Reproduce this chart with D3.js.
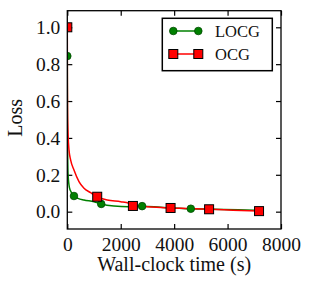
<!DOCTYPE html>
<html><head><meta charset="utf-8">
<script src="https://cdn.jsdelivr.net/npm/d3@7"></script>
<style>html,body{margin:0;padding:0;background:#fff;}svg{display:block;}</style>
</head><body>
<script>
// ---- data ----
const xTicks = [0, 2000, 4000, 6000, 8000];
const yTicks = [0.0, 0.2, 0.4, 0.6, 0.8, 1.0];
const seriesNames = ["LOCG", "OCG"];
// LOCG curve
const locgTime = [0, 8, 30, 80, 150, 250, 400, 625, 1000, 1270, 1745, 2300, 2800, 3500, 4624, 5500, 6400, 7178];
const locgLoss = [0.844, 0.4, 0.2, 0.13, 0.105, 0.085, 0.072, 0.063, 0.054, 0.042, 0.031, 0.027, 0.03, 0.024, 0.016, 0.013, 0.01, 0.006];
const locgMarkTime = [0, 250, 1270, 2800, 4624];
const locgMarkLoss = [0.844, 0.085, 0.042, 0.03, 0.016];
// OCG curve
const ocgTime = [0, 3, 10, 30, 63, 126, 250, 437, 625, 875, 1120, 1495, 2000, 2307, 2456, 3000, 3866, 4500, 5308, 6200, 7178];
const ocgLoss = [1.0, 0.7, 0.55, 0.42, 0.335, 0.28, 0.226, 0.163, 0.127, 0.103, 0.081, 0.063, 0.054, 0.045, 0.031, 0.027, 0.02, 0.017, 0.013, 0.008, 0.003];
const ocgMarkTime = [0, 1120, 2456, 3866, 5308, 7178];
const ocgMarkLoss = [1.0, 0.081, 0.031, 0.02, 0.013, 0.003];

const W = 312, H = 291;
const L = 67.3, R = 281, T = 10.7, B = 229;
const font = "'Liberation Serif','Times New Roman',serif";
const green = "#008000", red = "#ff0000";

const svg = d3.select("body").append("svg").attr("width", W).attr("height", H);
const x = d3.scaleLinear().domain([0, 8000]).range([L, R]);
const y = d3.scaleLinear().domain([-0.094, 1.09]).range([B, T]);

// axes with inward ticks
const tl = 5;
const gB = svg.append("g").attr("transform", `translate(0,${B})`)
  .call(d3.axisBottom(x).tickValues(xTicks).tickFormat(d3.format("d")).tickSizeInner(-tl).tickSizeOuter(0).tickPadding(8));
const gT = svg.append("g").attr("transform", `translate(0,${T})`)
  .call(d3.axisTop(x).tickValues(xTicks).tickFormat("").tickSizeInner(-tl).tickSizeOuter(0));
const gL = svg.append("g").attr("transform", `translate(${L},0)`)
  .call(d3.axisLeft(y).tickValues(yTicks).tickFormat(d3.format(".1f")).tickSizeInner(-tl).tickSizeOuter(0).tickPadding(7));
const gR = svg.append("g").attr("transform", `translate(${R},0)`)
  .call(d3.axisRight(y).tickValues(yTicks).tickFormat("").tickSizeInner(-tl).tickSizeOuter(0));
[gB, gT, gL, gR].forEach(g => {
  g.select(".domain").remove();
  g.selectAll(".tick line").attr("stroke", "#000").attr("stroke-width", 1.2);
  g.selectAll(".tick text").attr("font-family", font).attr("font-size", 19.5).attr("fill", "#111");
});

// data lines
const line = d3.line().x(d => x(d[0])).y(d => y(d[1])).curve(d3.curveMonotoneX);
const clip = svg.append("clipPath").attr("id", "c").append("rect")
  .attr("x", L).attr("y", T).attr("width", R - L).attr("height", B - T);
const plot = svg.append("g").attr("clip-path", "url(#c)");

plot.append("path").datum(d3.zip(locgTime, locgLoss)).attr("d", line)
  .attr("fill", "none").attr("stroke", green).attr("stroke-width", 1.5);
plot.append("path").datum(d3.zip(ocgTime, ocgLoss)).attr("d", line)
  .attr("fill", "none").attr("stroke", red).attr("stroke-width", 1.5);

plot.selectAll("circle.m").data(d3.zip(locgMarkTime, locgMarkLoss)).join("circle")
  .attr("cx", d => x(d[0])).attr("cy", d => y(d[1])).attr("r", 3.8)
  .attr("fill", green).attr("stroke", "#004a00").attr("stroke-width", 0.8);
const s = 9;
plot.selectAll("rect.m").data(d3.zip(ocgMarkTime, ocgMarkLoss)).join("rect")
  .attr("x", d => x(d[0]) - s / 2).attr("y", d => y(d[1]) - s / 2).attr("width", s).attr("height", s)
  .attr("fill", red).attr("stroke", "#000").attr("stroke-width", 1);

// frame
svg.append("rect").attr("x", L).attr("y", T).attr("width", R - L).attr("height", B - T)
  .attr("fill", "none").attr("stroke", "#000").attr("stroke-width", 1.3);

// axis labels
svg.append("text").attr("x", (L + R) / 2).attr("y", 271).attr("text-anchor", "middle")
  .attr("font-family", font).attr("font-size", 20).attr("fill", "#111").text("Wall-clock time (s)");
svg.append("text").attr("transform", `translate(22,${(T + B) / 2 - 2}) rotate(-90)`).attr("text-anchor", "middle")
  .attr("font-family", font).attr("font-size", 20).attr("fill", "#111").text("Loss");

// legend
const lg = svg.append("g");
lg.append("rect").attr("x", 162.3).attr("y", 18.3).attr("width", 110).attr("height", 52.4)
  .attr("fill", "#fff").attr("stroke", "#000").attr("stroke-width", 1.5);
const rows = [31, 54];
const cols = [green, red];
seriesNames.forEach((name, i) => {
  const yy = rows[i];
  lg.append("line").attr("x1", 173.3).attr("x2", 198.3).attr("y1", yy).attr("y2", yy)
    .attr("stroke", cols[i]).attr("stroke-width", 1.5);
  [173.3, 198.3].forEach(xx => {
    if (i === 0) lg.append("circle").attr("cx", xx).attr("cy", yy).attr("r", 3.8)
      .attr("fill", green).attr("stroke", "#004a00").attr("stroke-width", 0.8);
    else lg.append("rect").attr("x", xx - s / 2).attr("y", yy - s / 2).attr("width", s).attr("height", s)
      .attr("fill", red).attr("stroke", "#000").attr("stroke-width", 1);
  });
  lg.append("text").attr("x", 215).attr("y", yy).attr("dy", "0.35em")
    .attr("font-family", font).attr("font-size", 16.5).attr("fill", "#111").text(name);
});
</script>
</body></html>
